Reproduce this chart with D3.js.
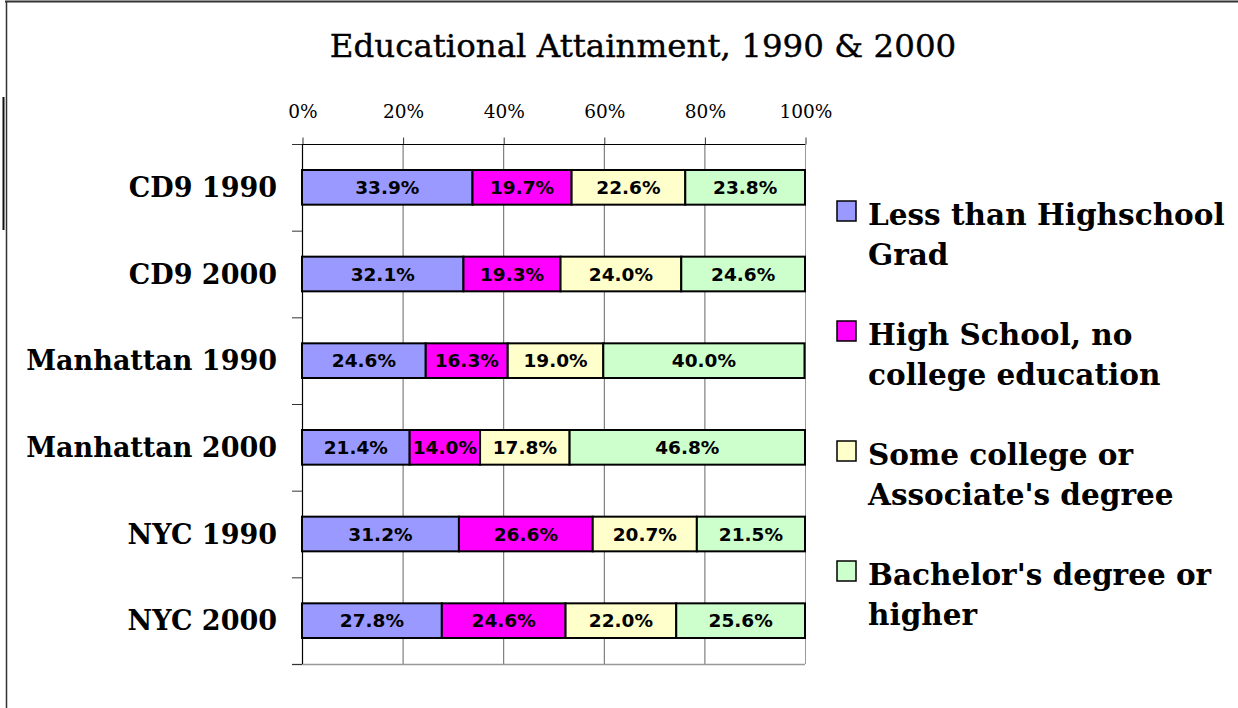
<!DOCTYPE html>
<html>
<head>
<meta charset="utf-8">
<script src="https://cdn.jsdelivr.net/npm/d3@7"></script>
<style>
  html, body { margin: 0; padding: 0; background: #fff; }
  svg { display: block; }
</style>
</head>
<body>
<svg id="chart" width="1238" height="708"></svg>
<script>
// Areas and years shown as rows (top to bottom)
const categories = ["CD9 1990", "CD9 2000", "Manhattan 1990", "Manhattan 2000", "NYC 1990", "NYC 2000"];

// Education levels, in stacking order
const seriesNames = [
  "Less than Highschool Grad",
  "High School, no college education",
  "Some college or Associate's degree",
  "Bachelor's degree or higher"
];
const legendLines = [
  ["Less than Highschool", "Grad"],
  ["High School, no", "college education"],
  ["Some college or", "Associate's degree"],
  ["Bachelor's degree or", "higher"]
];

// Share of adult population (%) per education level, one value per row
const lessThanHS   = [33.9, 32.1, 24.6, 21.4, 31.2, 27.8];
const highSchool   = [19.7, 19.3, 16.3, 14.0, 26.6, 24.6];
const someCollege  = [22.6, 24.0, 19.0, 17.8, 20.7, 22.0];
const bachelors    = [23.8, 24.6, 40.0, 46.8, 21.5, 25.6];

const xTicks = [0, 20, 40, 60, 80, 100];
const colors = ["#9999FF", "#FF00FF", "#FFFFCC", "#CCFFCC"];

(function draw() {
  const values = [lessThanHS, highSchool, someCollege, bachelors];
  const rows = categories.map((c, i) => {
    const r = { cat: c };
    seriesNames.forEach((s, j) => { r[s] = values[j][i]; });
    return r;
  });
  const stacked = d3.stack().keys(seriesNames)(rows);

  const svg = d3.select("#chart");
  const serif = "'DejaVu Serif', 'Liberation Serif', serif";
  const sans = "'DejaVu Sans', Verdana, sans-serif";

  // outer frame
  svg.append("line").attr("x1", 5).attr("x2", 1238).attr("y1", 1.5).attr("y2", 1.5)
    .attr("stroke", "#333").attr("stroke-width", 2);
  svg.append("line").attr("x1", 6.5).attr("x2", 6.5).attr("y1", 1).attr("y2", 708)
    .attr("stroke", "#333").attr("stroke-width", 1.5);
  svg.append("line").attr("x1", 3.5).attr("x2", 3.5).attr("y1", 97).attr("y2", 230)
    .attr("stroke", "#111").attr("stroke-width", 2);

  const pLeft = 302, pRight = 805, pTop = 144, pBottom = 664;
  const x = d3.scaleLinear().domain([0, 100]).range([pLeft, pRight]);
  const y = d3.scaleBand().domain(categories).range([pTop, pBottom])
    .paddingInner(0.6).paddingOuter(0.3);

  // title
  svg.append("text").attr("x", 643).attr("y", 57).attr("text-anchor", "middle")
    .attr("font-family", serif).attr("font-size", 32.5).attr("fill", "#000")
    .attr("stroke", "#000").attr("stroke-width", 0.4)
    .text("Educational Attainment, 1990 & 2000");

  // vertical gridlines
  svg.append("g").selectAll("line").data(xTicks.slice(1))
    .join("line")
    .attr("x1", d => x(d) + 0.5).attr("x2", d => x(d) + 0.5)
    .attr("y1", pTop).attr("y2", pBottom)
    .attr("stroke", d => d === 100 ? "#999" : "#666").attr("stroke-width", 1);

  // bottom edge of plot area
  svg.append("line").attr("x1", pLeft - 10).attr("x2", pRight).attr("y1", pBottom + 0.5).attr("y2", pBottom + 0.5)
    .attr("stroke", "#999").attr("stroke-width", 1.5);

  // top axis
  const xAxis = d3.axisTop(x).tickValues(xTicks).tickSize(7).tickPadding(20)
    .tickFormat(d => d + "%");
  const gx = svg.append("g").attr("transform", `translate(0.5,${pTop + 0.5})`).call(xAxis);
  gx.select(".domain").remove();
  gx.selectAll(".tick line").attr("stroke", "#333");
  gx.selectAll(".tick text").attr("font-family", serif).attr("font-size", 18.5).attr("fill", "#000");
  svg.append("line").attr("x1", pLeft - 10).attr("x2", pRight).attr("y1", pTop + 0.5).attr("y2", pTop + 0.5)
    .attr("stroke", "#000").attr("stroke-width", 1.2);

  // left axis with ticks at band boundaries
  const boundaries = categories.map(c => y(c) - (y.step() - y.bandwidth()) / 2).concat([pBottom]);
  svg.append("line").attr("x1", pLeft + 0.5).attr("x2", pLeft + 0.5).attr("y1", pTop).attr("y2", pBottom)
    .attr("stroke", "#000").attr("stroke-width", 1.2);
  svg.append("g").selectAll("line").data(boundaries).join("line")
    .attr("x1", pLeft - 10).attr("x2", pLeft).attr("y1", d => d + 0.5).attr("y2", d => d + 0.5)
    .attr("stroke", "#333").attr("stroke-width", 1);

  // category labels
  svg.append("g").selectAll("text").data(categories).join("text")
    .attr("x", 277).attr("y", d => y(d) + y.bandwidth() / 2)
    .attr("dy", "0.36em").attr("text-anchor", "end")
    .attr("font-family", serif).attr("font-weight", "bold").attr("font-size", 27)
    .attr("fill", "#000").text(d => d);

  // stacked bars
  const layers = svg.append("g").selectAll("g").data(stacked).join("g")
    .attr("fill", (d, i) => colors[i]);
  layers.selectAll("rect").data(d => d).join("rect")
    .attr("x", d => x(d[0])).attr("width", d => x(d[1]) - x(d[0]))
    .attr("y", d => y(d.data.cat)).attr("height", y.bandwidth())
    .attr("stroke", "#000").attr("stroke-width", 2);

  // value labels
  layers.selectAll("text").data(d => d.map(v => ({ v, key: d.key }))).join("text")
    .attr("x", d => (x(d.v[0]) + x(d.v[1])) / 2)
    .attr("y", d => y(d.v.data.cat) + y.bandwidth() / 2)
    .attr("dy", "0.36em").attr("text-anchor", "middle")
    .attr("font-family", sans).attr("font-weight", "bold").attr("font-size", 18.5)
    .attr("fill", "#000")
    .text(d => d.v.data[d.key].toFixed(1) + "%");

  // legend
  const legend = svg.append("g").selectAll("g").data(seriesNames).join("g")
    .attr("transform", (d, i) => `translate(837,${201 + i * 120})`);
  legend.append("rect").attr("width", 19).attr("height", 20)
    .attr("fill", (d, i) => colors[i]).attr("stroke", "#000").attr("stroke-width", 1.5);
  legend.each(function (d, i) {
    const t = d3.select(this).append("text")
      .attr("x", 31).attr("y", 24)
      .attr("font-family", serif).attr("font-weight", "bold").attr("font-size", 29.5).attr("fill", "#000");
    legendLines[i].forEach((line, k) => {
      t.append("tspan").attr("x", 31).attr("dy", k === 0 ? 0 : 40).text(line);
    });
  });
})();
</script>
</body>
</html>
